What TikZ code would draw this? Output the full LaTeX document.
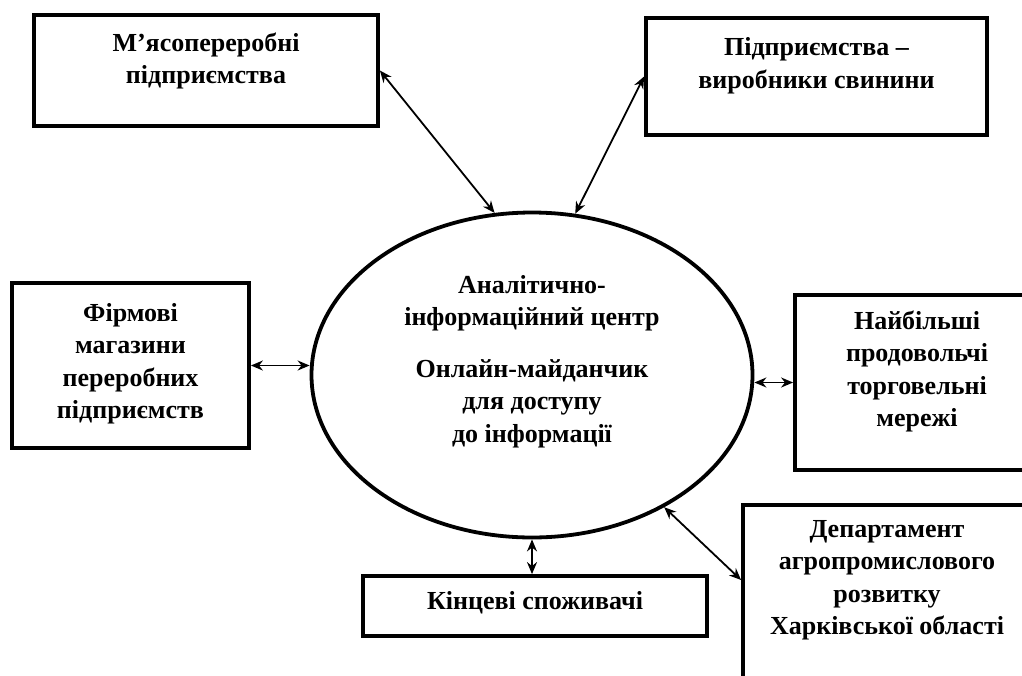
\documentclass[tikz,border=0pt]{standalone}
\usepackage{fontspec}
\setmainfont{Liberation Serif}
\usetikzlibrary{arrows.meta, shapes.geometric}

\begin{document}
\begin{tikzpicture}[x=1pt,y=-1pt,>={Stealth[length=12pt,width=10pt]},
    box/.style={draw,rectangle,line width=3.8pt,inner sep=0pt},
    txt/.style={align=center,font=\bfseries\fontsize{26}{32.5}\selectfont},
    link/.style={<->,line width=1.8pt}]
  \clip (0,0) rectangle (1022,675);
  \node[ellipse,draw,line width=3.8pt,minimum width=441pt,minimum height=325pt,
    label={[txt,yshift=13.5pt]center:{Аналітично-\\інформаційний центр\\[19pt]Онлайн-майданчик\\для доступу\\до інформації}}] (centre) at (532,375) {};
  \node[box,minimum width=344pt,minimum height=111pt,
    label={[txt,yshift=9.5pt]center:{М’ясопереробні\\підприємства}}] (meat) at (206,70.5) {};
  \node[box,minimum width=341pt,minimum height=117pt,
    label={[txt,yshift=11pt]center:{Підприємства –\\виробники свинини}}] (pork) at (816.5,76.5) {};
  \node[box,minimum width=237pt,minimum height=165pt,
    label={[txt,yshift=2pt]center:{Фірмові\\магазини\\переробних\\підприємств}}] (shops) at (130.5,365.5) {};
  \node[box,minimum width=244pt,minimum height=175pt,
    label={[txt,yshift=11pt]center:{Найбільші\\продовольчі\\торговельні\\мережі}}] (retail) at (917,382.5) {};
  \node[box,minimum width=344pt,minimum height=60pt,
    label={[txt,yshift=3pt]center:{Кінцеві споживачі}}] (buyers) at (535,606) {};
  \node[box,minimum width=288pt,minimum height=200pt,
    label={[txt,yshift=25pt]center:{Департамент\\агропромислового\\розвитку\\Харківської області}}] (dept) at (887,605) {};
  % links to the centre
  \draw[link] (meat.east) -- (centre.103);
  \draw[link] (pork.west) -- (centre.75);
  \draw[link] (shops.east) -- (shops.east -| centre.west);
  \draw[link] (retail.west -| centre.east) -- (retail.west);
  \draw[link] (centre.south) -- (centre.south |- buyers.north);
  \draw[link] (centre.-45) -- ([yshift=25pt]dept.west);
\end{tikzpicture}
\end{document}
